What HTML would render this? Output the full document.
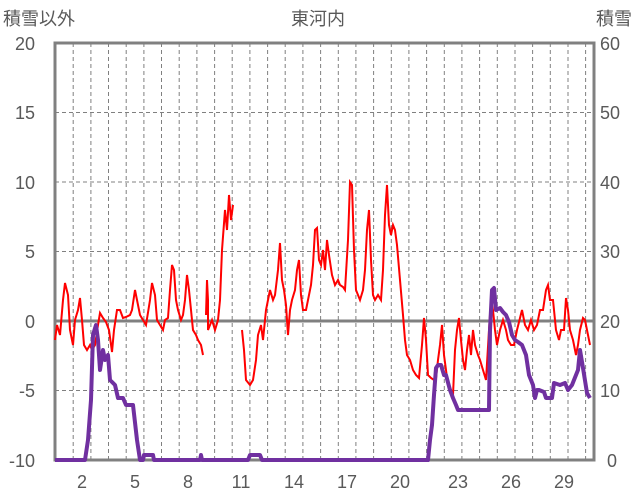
<!DOCTYPE html><html><head><meta charset="utf-8"><style>body{margin:0;background:#fff}svg{display:block}text{font-family:"Liberation Sans","Noto Sans CJK JP",sans-serif;fill:#595959;font-size:18px}</style></head><body>
<svg width="636" height="501" viewBox="0 0 636 501">
<g stroke="#808080" stroke-width="1" stroke-dasharray="4,3" fill="none">
<line x1="55" y1="112.5" x2="594" y2="112.5"/><line x1="55" y1="182" x2="594" y2="182"/><line x1="55" y1="251.5" x2="594" y2="251.5"/><line x1="55" y1="390.5" x2="594" y2="390.5"/>
<path d="M73.2 43V460M90.9 43V460M108.5 43V460M126.2 43V460M143.9 43V460M161.5 43V460M179.2 43V460M196.9 43V460M214.6 43V460M232.2 43V460M249.9 43V460M267.6 43V460M285.2 43V460M302.9 43V460M320.6 43V460M338.3 43V460M355.9 43V460M373.6 43V460M391.3 43V460M408.9 43V460M426.6 43V460M444.3 43V460M461.9 43V460M479.6 43V460M497.3 43V460M515 43V460M532.6 43V460M550.3 43V460M568 43V460M585.6 43V460"/>
</g>
<line x1="55" y1="321" x2="594" y2="321" stroke="#808080" stroke-width="3"/>
<rect x="55" y="43" width="539" height="417" fill="none" stroke="#808080" stroke-width="3"/>
<polyline fill="none" stroke="#ff0000" stroke-width="2" points="55,340 57,325 60,335 63,300 65,283 68,295 70,330 73,345 75,320 78,310 80,298 82,320 84,345 87,350 90,345 92,350 95,345 98,325 100,313 103,318 106,322 109,330 112,352 114,330 117,310 120,310 123,318 126,317 130,315 132,310 135,290 137,300 140,315 143,320 146,325 150,300 152,283 155,295 157,320 160,325 163,330 165,320 168,318 170,290 172,265 174,270 176,300 178,310 181,320 183,315 185,300 187,275 189,290 191,310 193,330 196,335 198,340 201,345 203,355"/>
<polyline fill="none" stroke="#ff0000" stroke-width="2" points="206,315 207,280 208,300 208,330 212,320 215,330 218,320 220,300 222,250 225,210 227,230 229,195 231,220 233,205"/>
<polyline fill="none" stroke="#ff0000" stroke-width="2" points="242,330 244,350 246,380 250,385 253,380 256,360 258,335 261,325 263,340 266,310 270,290 273,300 275,295 278,270 280,243 282,280 284,290 286,305 288,335 290,310 292,300 295,290 297,270 299,260 301,295 303,310 306,310 308,300 311,285 313,265 315,230 317,228 319,260 321,265 323,250 325,270 327,240 329,255 332,275 335,285 338,280 340,285 343,287 345,290 348,240 350,182 352,185 354,250 356,290 358,295 360,300 363,290 365,270 367,230 369,210 371,260 373,295 375,300 378,295 381,300 383,270 385,215 387,185 389,225 391,235 393,225 395,230 397,245 400,280 403,315 405,340 407,355 410,360 413,370 416,375 419,378 422,345 424,318 426,340 428,375 431,378 434,380 436,378 438,360 440,345 442,325 444,355 446,370 448,385 451,390 453,395 455,350 457,330 459,318 461,340 463,360 465,370 467,350 469,335 471,355 473,330 475,345 478,355 480,360 483,370 486,380 489,330 491,300 493,310 495,330 497,345 500,330 503,320 506,330 508,340 511,345 514,345 517,330 520,318 522,310 525,325 528,330 531,320 534,330 537,325 540,310 543,310 546,290 548,285 550,300 553,300 556,330 559,340 561,330 564,330 566,298 568,310 570,330 573,340 576,355 578,345 580,330 583,318 585,320 587,330 590,345"/>
<polyline fill="none" stroke="#7030a0" stroke-width="4" stroke-linejoin="round" points="55,460 85,460 88,440 91,400 93,335 96,325 98,340 100,370 103,350 105,360 108,355 110,380 115,385 118,398 123,398 126,405 133,405 137,440 140,460 143,460 144,455 153,455 154,460 200,460 201,455 202,460 248,460 250,455 260,455 262,460 428,460 430,440 432,425 434,395 436,368 438,365 441,365 444,375 446,375 450,390 453,398 456,405 458,410 489,410 490,330 492,290 494,288 496,310 500,308 503,312 506,315 509,322 512,335 515,340 518,342 522,345 526,355 529,375 533,385 535,398 537,390 539,390 544,392 546,398 552,398 554,383 560,385 565,383 568,390 572,385 576,375 578,370 580,350 583,368 587,393 590,398"/>
<text x="318" y="25" text-anchor="middle">東河内</text>
<text x="3" y="25">積雪以外</text>
<text x="632" y="25" text-anchor="end">積雪</text>
<g text-anchor="end" style="font-size:19px"><text x="35" y="50">20</text><text x="35" y="119">15</text><text x="35" y="189">10</text><text x="35" y="258">5</text><text x="35" y="328">0</text><text x="35" y="397">-5</text><text x="35" y="467">-10</text></g>
<g text-anchor="start" style="font-size:19px"><text x="600" y="50">60</text><text x="600" y="119">50</text><text x="600" y="189">40</text><text x="600" y="258">30</text><text x="600" y="328">20</text><text x="600" y="397">10</text><text x="607" y="467">0</text></g>
<g text-anchor="middle" style="font-size:19px"><text x="82" y="488">2</text><text x="135" y="488">5</text><text x="188" y="488">8</text><text x="241" y="488">11</text><text x="294" y="488">14</text><text x="347" y="488">17</text><text x="400" y="488">20</text><text x="458" y="488">23</text><text x="511" y="488">26</text><text x="564" y="488">29</text></g>
</svg></body></html>
